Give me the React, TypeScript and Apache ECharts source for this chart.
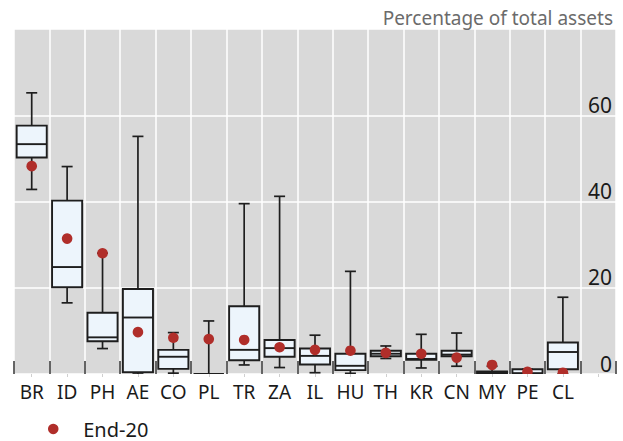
import React, { useEffect, useRef } from "react";
import * as echarts from "echarts";

// Countries (x categories)
const countries = ["BR", "ID", "PH", "AE", "CO", "PL", "TR", "ZA", "IL", "HU", "TH", "KR", "CN", "MY", "PE", "CL"];

// Distribution of holdings, percentage of total assets
const lowWhisker = [42.8, 16.5, 5.9, 0, 0.2, 0, 2.1, 1.5, 0.3, 0.15, 3.6, 1.4, 1.8, 0, 0, 0];
const lowerQuartile = [50.2, 20.1, 7.6, 0.4, 1.2, 0, 3.2, 4.0, 2.2, 0.9, 4.1, 3.3, 4.1, 0.2, 0, 1.1];
const medianValue = [53.3, 24.8, 8.5, 13.1, 4.0, 0, 5.6, 6.0, 4.2, 1.9, 4.7, 3.5, 4.5, 0.4, 0.2, 5.1];
const upperQuartile = [57.6, 40.2, 14.2, 19.7, 5.6, 0, 15.7, 7.9, 5.9, 4.7, 5.4, 4.7, 5.4, 0.6, 1.1, 7.3];
const highWhisker = [65.2, 48.1, 28.0, 55.1, 9.6, 12.3, 39.5, 41.2, 9.0, 23.8, 6.5, 9.2, 9.5, 1.8, 1.1, 17.8];

// End-2020 observation
const end20 = [48.2, 31.4, 28.0, 9.7, 8.4, 8.1, 7.9, 6.2, 5.6, 5.4, 4.9, 4.7, 3.8, 2.1, 0.5, 0.3];

// Y axis ticks
const yTicks = [0, 20, 40, 60, 80];

const FONT = "'Noto Sans', 'Open Sans', sans-serif";
const INK = "#1a1a1a";
const DOT = "#b02e2a";

export default function App() {
  const ref = useRef<HTMLDivElement>(null);

  useEffect(() => {
    if (!ref.current) return;
    const chart = echarts.init(ref.current, null, { renderer: "svg" });

    // extra empty band on the right holds the y-axis labels
    const xCats = [...countries, ""];

    const boxData = countries.map((_, i) => [
      i,
      lowWhisker[i],
      lowerQuartile[i],
      medianValue[i],
      upperQuartile[i],
      highWhisker[i],
    ]);
    const dotData = countries.map((_, i) => [i, end20[i]]);

    const renderBox = (params: any, api: any) => {
      const x = api.value(0);
      const pt = (v: number) => api.coord([x, v]);
      const [cx, yMin] = pt(api.value(1));
      const yQ1 = pt(api.value(2))[1];
      const yMed = pt(api.value(3))[1];
      const yQ3 = pt(api.value(4))[1];
      const yMax = pt(api.value(5))[1];
      const band = api.size([1, 0])[0];
      const bw = band * 0.85;
      const cap = 11;
      const stroke = { stroke: "#1e1e1e", lineWidth: 1.7, fill: null };
      return {
        type: "group",
        children: [
          { type: "line", shape: { x1: cx, y1: yMin, x2: cx, y2: yQ1 }, style: stroke },
          { type: "line", shape: { x1: cx, y1: yQ3, x2: cx, y2: yMax }, style: stroke },
          { type: "line", shape: { x1: cx - cap / 2, y1: yMin, x2: cx + cap / 2, y2: yMin }, style: stroke },
          { type: "line", shape: { x1: cx - cap / 2, y1: yMax, x2: cx + cap / 2, y2: yMax }, style: stroke },
          {
            type: "rect",
            shape: { x: cx - bw / 2, y: yQ3, width: bw, height: yQ1 - yQ3 },
            style: { fill: "#edf5fc", stroke: "#1e1e1e", lineWidth: 1.9 },
          },
          {
            type: "line",
            shape: { x1: cx - bw / 2, y1: yMed, x2: cx + bw / 2, y2: yMed },
            style: { stroke: "#1e1e1e", lineWidth: 1.9 },
          },
        ],
      };
    };

    const renderDot = (params: any, api: any) => {
      const [cx, cy] = api.coord([api.value(0), api.value(1)]);
      return {
        type: "circle",
        shape: { cx, cy, r: 5.3 },
        style: { fill: DOT },
      };
    };

    chart.setOption({
      animation: false,
      backgroundColor: "#ffffff",
      textStyle: { fontFamily: FONT },
      title: {
        text: "Percentage of total assets",
        right: 5,
        top: 3,
        textStyle: { fontFamily: FONT, fontSize: 19, fontWeight: "normal", color: "#6b6b6b" },
      },
      grid: {
        left: 14,
        right: 7,
        top: 29,
        bottom: 67,
        show: true,
        backgroundColor: "#d9d9d9",
        borderWidth: 0,
      },
      legend: {
        data: [{ name: "End-20", icon: "circle" }],
        left: 48,
        top: 418,
        padding: 0,
        itemWidth: 30,
        itemHeight: 10.5,
        textStyle: { fontFamily: FONT, fontSize: 20, lineHeight: 22, color: INK, padding: [0, 0, 0, 10] },
      },
      xAxis: [
        {
          type: "category",
          data: xCats,
          boundaryGap: true,
          axisLine: { show: false },
          axisTick: { show: true, inside: true, interval: 0, length: 13, lineStyle: { color: "#333", width: 1.5 } },
          axisLabel: { interval: 0, fontFamily: FONT, fontSize: 19, color: INK, margin: 8 },
          splitLine: { show: true, interval: 0, lineStyle: { color: "#ffffff", width: 1.5 } },
        },
        {
          type: "category",
          data: xCats,
          position: "bottom",
          boundaryGap: true,
          axisLine: { show: false },
          axisTick: { show: true, alignWithLabel: true, interval: 0, length: 3, lineStyle: { color: "#cfcfcf", width: 1 } },
          axisLabel: { show: false },
          splitLine: { show: false },
        },
      ],
      yAxis: {
        type: "value",
        position: "right",
        min: yTicks[0],
        max: yTicks[yTicks.length - 1],
        interval: yTicks[1] - yTicks[0],
        axisLine: { show: false },
        axisTick: { show: false },
        axisLabel: {
          inside: true,
          margin: 4,
          fontFamily: FONT,
          fontSize: 21,
          color: INK,
          verticalAlign: "bottom",
          showMaxLabel: false,
        },
        splitLine: { show: true, lineStyle: { color: "#ffffff", width: 1.5 } },
      },
      series: [
        {
          name: "Range",
          type: "custom",
          clip: true,
          renderItem: renderBox,
          encode: { x: 0, y: [1, 2, 3, 4, 5] },
          data: boxData,
          z: 3,
        },
        {
          name: "End-20",
          type: "custom",
          clip: true,
          renderItem: renderDot,
          itemStyle: { color: DOT },
          encode: { x: 0, y: 1 },
          data: dotData,
          z: 4,
        },
      ],
    });

    return () => chart.dispose();
  }, []);

  return (
    <div
      ref={ref}
      style={{ position: "fixed", left: 0, top: 0, width: 623, height: 441 }}
    />
  );
}
